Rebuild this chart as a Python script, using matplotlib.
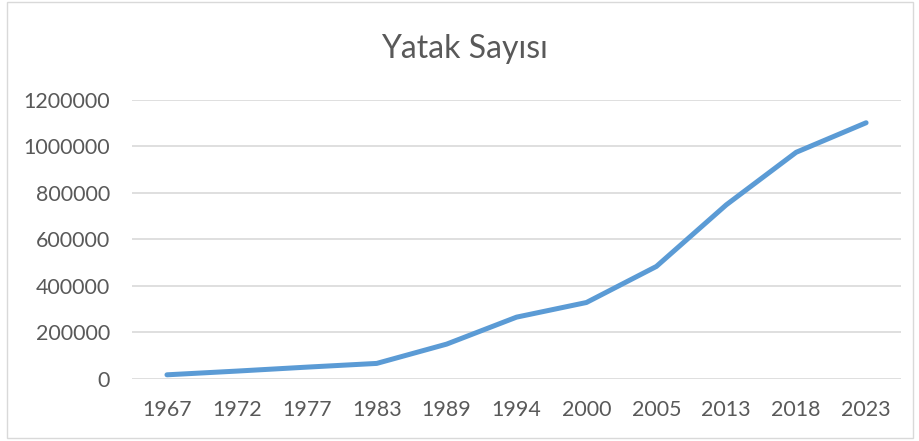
import matplotlib
matplotlib.use("Agg")
import matplotlib.pyplot as plt
from matplotlib.patches import Rectangle

years = ["1967", "1972", "1977", "1983", "1989", "1994", "2000", "2005", "2013", "2018", "2023"]
beds = [18000, 34000, 51000, 67000, 150000, 266000, 329000, 484000, 749000, 975000, 1102000]
yticks = [0, 200000, 400000, 600000, 800000, 1000000, 1200000]
title = "Yatak Sayısı"

plt.rcParams['font.family'] = ['Lato', 'DejaVu Sans']

fig = plt.figure(figsize=(9.2, 4.41), dpi=100)
fig.patches.append(Rectangle((0.008, 0.006), 0.984, 0.99, transform=fig.transFigure,
                             fill=False, edgecolor='#D9D9D9', linewidth=1.0))
ax = fig.add_axes([0.1435, 0.1406, 0.8359, 0.6327])
x = list(range(len(years)))
ax.plot(x, beds, color='#5B9BD5', linewidth=3.6, solid_capstyle='round', solid_joinstyle='round')
ax.set_xlim(-0.5, len(years) - 0.5)
ax.set_ylim(0, 1200000)
ax.set_yticks(yticks)
ax.set_yticklabels([str(v) for v in yticks])
ax.set_xticks(x)
ax.set_xticklabels(years)
ax.grid(axis='y', color='#D9D9D9', linewidth=1.2)
ax.set_axisbelow(True)
for s in ax.spines.values():
    s.set_visible(False)
ax.tick_params(axis='both', length=0, labelsize=15.4, colors='#595959')
ax.tick_params(axis='y', pad=16)
ax.tick_params(axis='x', pad=15)
fig.text(0.505, 0.89, title, ha='center', va='center', fontsize=23, color='#595959')
fig.savefig("out.png", dpi=100)
